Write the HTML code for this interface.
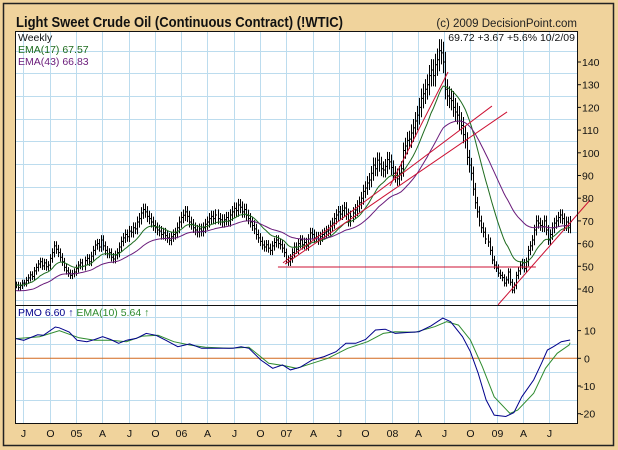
<!DOCTYPE html>
<html><head><meta charset="utf-8">
<style>
html,body{margin:0;padding:0;background:#F0D39C;}
svg{display:block;font-family:"Liberation Sans",Arial,sans-serif;}
</style></head>
<body>
<svg id="chart" width="618" height="450" viewBox="0 0 618 450" xmlns="http://www.w3.org/2000/svg">
<rect x="0" y="0" width="618" height="450" fill="#F0D39C"/>
<rect x="3.5" y="3.5" width="610" height="442" fill="none" stroke="#222" stroke-width="1.5"/>
<text x="16" y="27" font-size="15" font-weight="bold" fill="#111" textLength="327" lengthAdjust="spacingAndGlyphs">Light Sweet Crude Oil (Continuous Contract) (!WTIC)</text>
<text x="577" y="27" font-size="11.5" fill="#222" text-anchor="end">(c) 2009 DecisionPoint.com</text>
<rect x="15.5" y="31.5" width="562" height="274" fill="#fff"/>
<rect x="15.5" y="305.5" width="562" height="118" fill="#fff"/>
<g id="grid"></g>
<defs>
<clipPath id="cpMain"><rect x="16" y="32" width="561" height="273"/></clipPath>
<clipPath id="cpLow"><rect x="16" y="306" width="561" height="117"/></clipPath>
</defs>
<g id="priceG" clip-path="url(#cpMain)"></g>
<g id="trendG"></g>
<g id="lowG" clip-path="url(#cpLow)"></g>
<rect x="15.5" y="31.5" width="562" height="274" fill="none" stroke="#111" stroke-width="1"/>
<rect x="15.5" y="305.5" width="562" height="118" fill="none" stroke="#111" stroke-width="1"/>
<g id="axisG"></g>
<text x="18" y="41" font-size="10.5" fill="#111">Weekly</text>
<text x="18" y="53" font-size="10.5" fill="#1E6B1E">EMA(17) 67.57</text>
<text x="18" y="65" font-size="10.5" fill="#6A1B7A">EMA(43) 66.83</text>
<text x="575" y="41" font-size="10.5" fill="#111" text-anchor="end">69.72  +3.67  +5.6%  10/2/09</text>
<text x="18" y="316" font-size="10.5" fill="#00008B">PMO  6.60 <tspan fill="#00008B">↑</tspan> <tspan fill="#2E8B2E">EMA(10)  5.64 ↑</tspan></text>
</svg>
<script>
const closes = [
41.8,40.6,41.5,42.6,42.6,43.8,44.9,46.2,45.5,48.0,
49.5,51.0,52.0,50.2,51.5,49.8,50.5,53.5,56.0,59.0,
57.5,56.0,54.0,52.0,49.5,48.0,47.0,46.0,46.8,47.5,
49.0,50.5,51.5,50.0,52.5,53.5,52.0,54.5,57.0,59.4,
60.0,58.5,61.6,59.0,57.0,55.5,56.0,54.0,53.2,55.0,
56.0,58.5,61.0,62.5,64.0,63.0,65.5,65.0,67.0,66.5,
69.5,71.0,73.5,75.0,74.0,72.0,71.0,69.5,68.0,67.0,
66.0,65.5,64.0,64.7,63.5,62.5,61.5,63.0,64.0,64.7,
67.0,69.5,71.5,72.5,74.0,72.0,69.5,68.5,67.0,66.0,
65.0,66.5,65.5,67.0,68.5,69.5,71.0,72.0,71.0,72.6,
71.0,70.5,69.5,70.5,71.5,70.0,72.6,74.0,75.5,74.5,
77.0,76.0,74.0,75.0,72.5,71.0,69.5,68.0,66.5,64.0,
62.5,61.0,59.4,58.5,59.5,58.0,57.0,59.0,60.5,61.6,
60.0,59.5,58.0,56.0,53.0,52.0,53.5,56.0,58.5,57.5,
60.0,61.6,59.5,60.5,59.0,62.0,64.7,64.0,62.5,63.0,
61.6,63.0,64.0,64.7,65.5,66.0,67.8,69.0,71.0,72.6,
74.0,73.0,74.5,75.7,73.0,70.0,72.0,73.5,74.8,76.5,
78.0,80.0,83.0,84.5,86.7,88.0,91.0,94.6,93.0,96.8,
95.0,93.0,92.4,94.0,97.0,96.0,93.5,91.0,90.0,88.5,
91.0,93.0,101.0,103.0,105.5,106.0,108.7,111.0,114.0,116.6,
120.0,124.0,126.0,128.0,130.0,134.0,136.5,134.0,138.8,141.0,
145.0,144.0,140.0,128.0,125.0,124.0,123.0,120.0,118.0,116.6,
114.0,112.0,108.0,105.6,98.0,94.6,91.0,84.0,78.0,74.0,
70.0,67.0,65.0,62.0,60.7,57.0,52.8,50.5,49.2,47.0,
46.0,45.0,42.6,44.0,47.5,43.0,39.5,41.5,46.0,48.0,
50.5,51.5,49.0,52.0,57.0,59.0,61.6,66.0,70.0,69.0,
68.0,67.5,70.0,66.0,61.6,64.0,67.0,69.0,70.0,71.5,
72.6,71.0,68.0,69.5,67.0,69.7];

const pmoWeek = [0,3.8,10.7,13.6,19.5,21.5,26.4,30.3,35.2,39.1,43,47,50.9,54.8,59.7,64.6,69.5,74.4,80.3,86.2,92.1,96,101.9,107.8,111.7,115.6,121.5,127.4,132.3,136.2,141.1,147,152.9,158.8,163.7,168.6,173.5,178.4,183.3,188.2,194.1,200,205.9,211.8,215.7,221.6,225.5,229.4,233.3,237.3,243.1,247.1,251,256.9,260.8,263.7,266.7,270.6,275];
const pmoVal = [7.1,6.5,8.5,8.3,11.3,11,9.5,6.5,6,6.8,7.8,6.8,5.4,6.5,7.2,9,8.3,6.5,4.2,5.2,3.6,3.6,3.6,3.6,4.2,3.6,-0.6,-3.6,-2.4,-4.2,-3.2,-0.6,0.6,2.4,5.4,5.4,6.8,10.2,10.5,9,9.3,9.6,11.7,14.5,13.2,7.8,2.4,-5.4,-15,-20.5,-21,-19.6,-13.9,-7.8,-1.8,3,4.2,6,6.6];
const sigWeek = [0,11.7,21.5,31.3,39.1,47,54.8,62.7,70.5,78.3,86.2,94,105.8,115.6,125.4,133.3,139.2,147,154.8,164.6,174.5,182.3,188.2,198,207.8,213.7,219.6,225.5,231.4,237.3,245.1,249,256.9,262.8,268.6,274.5,275];
const sigVal = [7.1,7.8,10,7.4,6.5,6.5,6,8,8.3,6,4.8,4,3.6,4,-1.8,-2.7,-3.6,-1.8,0,3.6,6,9,9.6,9.4,11.4,13.2,12,6.6,-3,-13.9,-19.9,-18.7,-12.6,-3.6,1.8,4.8,5.64];

const priceTicks = [40,50,60,70,80,90,100,110,120,130,140];
const priceGrid = [35,45,55,65,75,85,95,105,115,125,135,145];
const pmoTicks = [10,0,-10,-20];
const pmoGrid = [15,5,-5,-15];
const xLabels = ["J","O","05","A","J","O","06","A","J","O","07","A","J","O","08","A","J","O","09","A","J"];
const xLabelWeeks = [3.7,16.7,29.8,42.8,55.9,68.9,82.0,95.0,108.1,121.1,134.2,147.2,160.3,173.3,186.4,199.4,212.5,225.5,238.6,251.6,264.7];

const trendHorizontal = [130, 49.7, 258, 49.7];
const trendA = [133.5, 51.0, 243.7, 118.0];
const trendC = [132.5, 51.5, 236.2, 120.6];
const trendB = [185.6, 85.4, 214.4, 135.6];
const trendE = [239.2, 33.0, 284.9, 79.2];

const NS = "http://www.w3.org/2000/svg";
const X = i => 16 + i * 2.015;
const Y = v => 289 - (v - 40) * 2.27;
const YL = v => 358.3 - v * 2.77;

function mk(tag, attrs, parent) {
  const e = document.createElementNS(NS, tag);
  for (const k in attrs) e.setAttribute(k, attrs[k]);
  parent.appendChild(e);
  return e;
}
const grid = document.getElementById('grid');
const priceG = document.getElementById('priceG');
const trendG = document.getElementById('trendG');
const lowG = document.getElementById('lowG');
const axisG = document.getElementById('axisG');

xLabelWeeks.forEach((w, k) => {
  const x = Math.round(X(w)) + 0.5;
  const l = mk('line', {x1: x, x2: x, y1: 32, y2: 423, stroke: '#BCDCEE', 'stroke-width': 1}, grid);
  
  
  const t = mk('text', {x: x, y: 437, 'font-size': 10.5, fill: '#111', 'text-anchor': 'middle'}, axisG);
  t.textContent = xLabels[k];
  
  
});
priceGrid.forEach(v => {
  const y = Math.round(Y(v)) + 0.5;
  const l = mk('line', {x1: 16, x2: 577, y1: y, y2: y, stroke: '#BCDCEE', 'stroke-width': 1}, grid);
  
  
});
pmoGrid.forEach(v => {
  const y = Math.round(YL(v)) + 0.5;
  const l = mk('line', {x1: 16, x2: 577, y1: y, y2: y, stroke: '#BCDCEE', 'stroke-width': 1}, grid);
  
  
});
priceTicks.forEach(v => {
  const y = Y(v);
  const tk = mk('line', {x1: 577, x2: 581, y1: y, y2: y, stroke: '#111'}, axisG);
  
  
  const t = mk('text', {x: 582, y: y + 4, 'font-size': 10.5, fill: '#111'}, axisG);
  t.textContent = v;
  
  
});
pmoTicks.forEach(v => {
  const y = YL(v);
  const tk = mk('line', {x1: 577, x2: 581, y1: y, y2: y, stroke: '#111'}, axisG);
  
  
  const t = mk('text', {x: v < 0 ? 580 : 584, y: y + 4, 'font-size': 10.5, fill: '#111'}, axisG);
  t.textContent = v;
  
  
});

closes.forEach((c, i) => {
  const p = i > 0 ? closes[i - 1] : c;
  const ext = c * 0.035;
  const hi = Math.max(p, c) + ext, lo = Math.min(p, c) - ext;
  const x = Math.round(X(i)) + 0.5;
  const b = mk('path', {d: `M${x},${Y(hi)}V${Y(lo)}M${x},${Y(c)}h1.5`, stroke: '#000', 'stroke-width': 1, fill: 'none'}, priceG);
  
  
});

function ema(arr, n) {
  const k = 2 / (n + 1); const out = []; let e = arr[0];
  arr.forEach(v => { e = v * k + e * (1 - k); out.push(e); });
  return out;
}
function linePts(vals, yf) { return vals.map((v, i) => X(i).toFixed(1) + ',' + yf(v).toFixed(1)).join(' '); }
const e17 = ema(closes, 17), e43 = ema(closes.map((c,i)=>i<10?c-2.5:c), 43);
const l17 = mk('polyline', {points: linePts(e17, Y), fill: 'none', stroke: '#1E6B1E', 'stroke-width': 1}, priceG);


const l43 = mk('polyline', {points: linePts(e43, Y), fill: 'none', stroke: '#6A1B7A', 'stroke-width': 1}, priceG);



[[trendHorizontal,'trendline-support-50'],[trendA,'trendline-a'],[trendC,'trendline-c'],[trendB,'trendline-b'],[trendE,'trendline-2009']].forEach(([t, nm]) => {
  const l = mk('line', {x1: X(t[0]), y1: Y(t[1]), x2: X(t[2]), y2: Y(t[3]), stroke: '#CC1133', 'stroke-width': 1}, nm==='trendline-2009'?trendG:priceG);
  
  
});

const zl = mk('line', {x1: 16, x2: 577, y1: YL(0), y2: YL(0), stroke: '#D2691E', 'stroke-width': 1}, lowG);


const sig = mk('polyline', {points: sigWeek.map((w, k) => X(w).toFixed(1) + ',' + YL(sigVal[k]).toFixed(1)).join(' '), fill: 'none', stroke: '#2E8B2E', 'stroke-width': 1}, lowG);


const pmo = mk('polyline', {points: pmoWeek.map((w, k) => X(w).toFixed(1) + ',' + YL(pmoVal[k]).toFixed(1)).join(' '), fill: 'none', stroke: '#00008B', 'stroke-width': 1}, lowG);


</script>
</body></html>
